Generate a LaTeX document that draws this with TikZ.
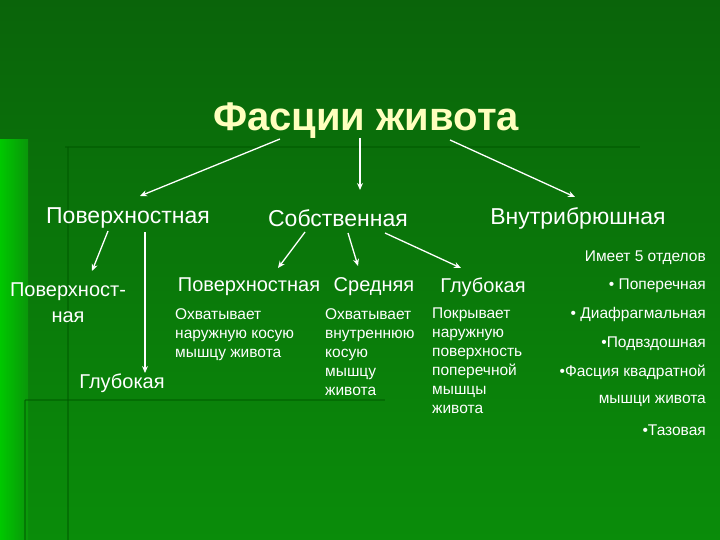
\documentclass[tikz,border=0pt]{standalone}
\usepackage{fontspec}
\setmainfont{Liberation Sans}
\usetikzlibrary{arrows.meta}
\begin{document}
\begin{tikzpicture}[x=1pt,y=-1pt,
  arr/.style={draw=white,line width=1.3pt,-{Stealth[length=7pt,width=6pt]}},
  lvl/.style={text=white,font=\fontsize{23}{26}\selectfont,inner sep=0pt},
  sub/.style={text=white,font=\fontsize{20}{26}\selectfont,inner sep=0pt},
  desc/.style={text=white,font=\fontsize{15.5}{19}\selectfont,inner sep=0pt,align=left,anchor=north west},
  bul/.style={text=white,font=\fontsize{15.5}{17}\selectfont,inner sep=0pt,anchor=east},
  deco/.style={draw=black!50!green!70!black,line width=2.5pt,opacity=0.5}]
\useasboundingbox (0,0) rectangle (720,540);
\fill[top color={rgb,255:red,10;green,100;blue,10},bottom color={rgb,255:red,10;green,140;blue,10}] (0,0) rectangle (720,540);
\fill[left color={rgb,255:red,0;green,200;blue,0},right color={rgb,255:red,10;green,150;blue,10}] (0,140) rectangle (28,540);
\draw[deco] (65,147) -- (640,147);
\draw[deco] (68,147) -- (68,540);
\draw[deco] (25,400) -- (385,400);
\draw[deco] (25,400) -- (25,540);
\node[text={rgb,255:red,255;green,255;blue,190},font=\bfseries\fontsize{40}{46}\selectfont,inner sep=0pt] (t) at (366,121) {Фасции живота};
\node[lvl] (a) at (128,218) {Поверхностная};
\node[lvl] (b) at (338,218) {Собственная};
\node[lvl] (c) at (578,218) {Внутрибрюшная};
\coordinate (t1) at (280,139); \coordinate (t2) at (360,138); \coordinate (t3) at (450,140);
\draw[arr] (t1) -- (140,196);
\draw[arr] (t2) -- (360,190);
\draw[arr] (t3) -- (575,197);
\node[sub,align=center] (a1) at (68,303) {Поверхност-\\ная};
\node[sub] (a2) at (122,383) {Глубокая};
\draw[arr] (108,231) -- (92,271);
\draw[arr] (145,232) -- (145,373);
\node[sub] (b1) at (249,287) {Поверхностная};
\node[sub] (b2) at (374,287) {Средняя};
\node[sub] (b3) at (483,287) {Глубокая};
\draw[arr] (305,232) -- (278,268);
\draw[arr] (348,233) -- (358,266);
\draw[arr] (385,233) -- (461,268);
\node[desc] (d1) at (175,308) {Охватывает\\наружную косую\\мышцу живота};
\node[desc] (d2) at (325,308) {Охватывает\\внутреннюю\\косую\\мышцу\\живота};
\node[desc] (d3) at (432,308) {Покрывает\\наружную\\поверхность\\поперечной\\мышцы\\живота};
\node[bul] (c0) at (706,258) {Имеет 5 отделов};
\node[bul] (c1) at (706,286) {• Поперечная};
\node[bul] (c2) at (706,314) {• Диафрагмальная};
\node[bul] (c3) at (706,344) {•Подвздошная};
\node[bul] (c4) at (706,372) {•Фасция квадратной};
\node[bul] (c5) at (706,401) {мышци живота};
\node[bul] (c6) at (706,430) {•Тазовая};
\end{tikzpicture}
\end{document}
